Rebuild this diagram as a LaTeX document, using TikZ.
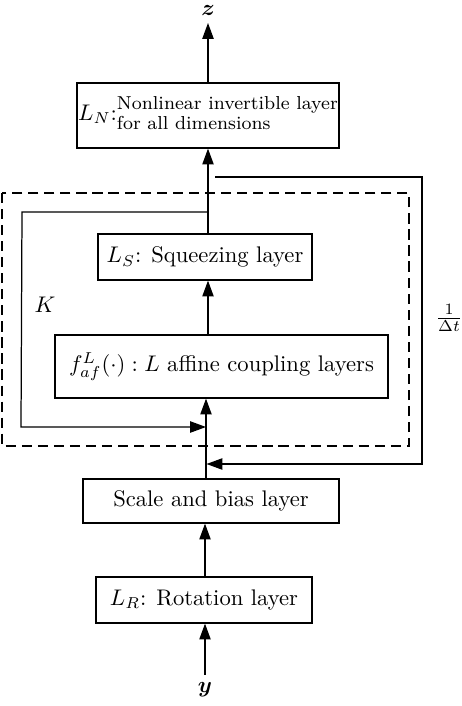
\documentclass[tikz,border=0pt]{standalone}
\usepackage{amsmath,bm}
\usepackage{fontspec}
\usetikzlibrary{arrows.meta}
\begin{document}
\begin{tikzpicture}[x=0.4425pt,y=-0.4425pt,
  box/.style={draw, line width=0.55pt, inner sep=0pt, align=center},
  arr/.style={line width=0.55pt, -{Triangle[length=7pt,width=5pt]}},
  ln/.style={line width=0.55pt}]
\useasboundingbox (0,0) rectangle (462,706);
% boxes
\node[box, minimum width={262*0.4425pt}, minimum height={65*0.4425pt}] (LN) at (208,115.5)
  {$L_N$:{\fontsize{8.3}{9}\selectfont\begin{tabular}{@{}l@{}}Nonlinear invertible layer\\ for all dimensions\end{tabular}}};
\node[box, minimum width={214*0.4425pt}, minimum height={46*0.4425pt}] (LS) at (205,257) {$L_S$: Squeezing layer};
\node[box, minimum width={333*0.4425pt}, minimum height={63*0.4425pt}] (CP) at (221.5,366.5) {$f_{af}^{L}(\cdot): L$ affine coupling layers};
\node[box, minimum width={256*0.4425pt}, minimum height={44*0.4425pt}] (SB) at (211,501) {Scale and bias layer};
\node[box, minimum width={216*0.4425pt}, minimum height={46*0.4425pt}] (RT) at (204,600) {$L_R$: Rotation layer};
% labels
\node (z) at (208,10) {$\bm{z}$};
\node (y) at (205,690) {$\bm{y}$};
\node (K) at (45,305) {$K$};
\node (dt) at (449,318) {$\frac{1}{\Delta t}$};
% dashed frame
\draw[line width=0.55pt, dash pattern=on 4.5pt off 2.6pt] (2,193) rectangle (409,446);
% coordinates
\coordinate (xa) at (205,0);
\coordinate (xb) at (206,0);
\coordinate (xc) at (208,0);
\coordinate (ka) at (208.5,212);
\coordinate (kb) at (22,212);
\coordinate (kc) at (21,427);
\coordinate (kd) at (206,427);
\coordinate (fa) at (215,177);
\coordinate (fb) at (422,177);
\coordinate (fc) at (422,464);
\coordinate (fd) at (206.5,464);
% main flow
\draw[arr] (y.north -| xa) -- (RT.south -| xa);
\draw[arr] (RT.north -| xa) -- (SB.south -| xa);
\draw[arr] (SB.north -| xb) -- (CP.south -| xb);
\draw[arr] (CP.north -| xc) -- (LS.south -| xc);
\draw[arr] (LS.north -| xc) -- (LN.south -| xc);
\draw[arr] (LN.north -| xc) -- (z.south -| xc);
% inner loop K
\draw[arr] (ka) -- (kb) -- (kc) -- (kd);
% feedback loop
\draw[arr] (fa) -- (fb) -- (fc) -- (fd);
\end{tikzpicture}
\end{document}
